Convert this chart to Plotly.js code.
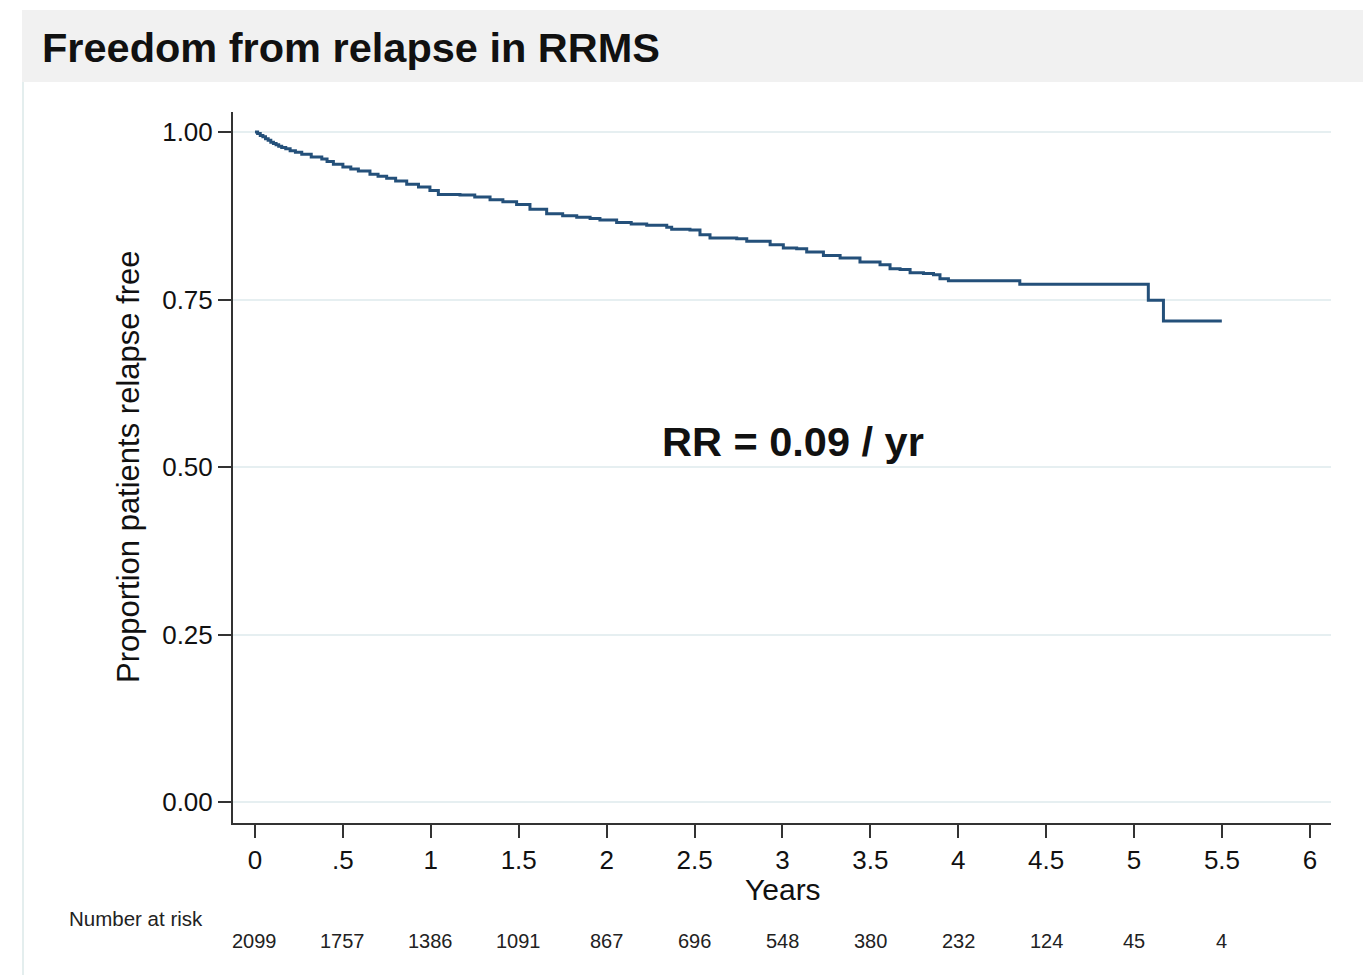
<!DOCTYPE html>
<html>
<head>
<meta charset="utf-8">
<script src="https://cdn.plot.ly/plotly-3.0.1.min.js"></script>
<style>html,body{margin:0;padding:0;background:#fff;}#chart{width:1363px;height:975px;}</style>
</head>
<body>
<div id="chart"></div>
<script>
// Kaplan-Meier step points: time (years) and survival proportion
var years = [0, 0.015, 0.03, 0.045, 0.06, 0.075, 0.09, 0.105, 0.12, 0.135, 0.152, 0.175, 0.2, 0.23, 0.266, 0.32, 0.38, 0.41, 0.446, 0.5, 0.545, 0.588, 0.654, 0.70, 0.749, 0.80, 0.863, 0.93, 0.995, 1.043, 1.166, 1.25, 1.337, 1.41, 1.488, 1.564, 1.659, 1.75, 1.83, 1.906, 1.962, 2.057, 2.14, 2.228, 2.342, 2.37, 2.474, 2.531, 2.588, 2.74, 2.797, 2.93, 3.005, 3.081, 3.138, 3.233, 3.328, 3.441, 3.555, 3.612, 3.669, 3.726, 3.802, 3.859, 3.896, 3.944, 4.35, 5.081, 5.167, 5.499];
var survival = [1.0, 0.998, 0.995, 0.993, 0.990, 0.988, 0.985, 0.983, 0.981, 0.979, 0.977, 0.975, 0.972, 0.970, 0.967, 0.963, 0.960, 0.956, 0.952, 0.948, 0.945, 0.942, 0.937, 0.934, 0.931, 0.927, 0.922, 0.918, 0.913, 0.907, 0.906, 0.903, 0.899, 0.896, 0.892, 0.885, 0.878, 0.875, 0.873, 0.871, 0.869, 0.865, 0.863, 0.861, 0.858, 0.855, 0.854, 0.847, 0.842, 0.841, 0.837, 0.832, 0.827, 0.826, 0.821, 0.816, 0.812, 0.806, 0.802, 0.796, 0.795, 0.790, 0.789, 0.787, 0.781, 0.778, 0.773, 0.749, 0.718, 0.718];

var xTickVals = [0, 0.5, 1, 1.5, 2, 2.5, 3, 3.5, 4, 4.5, 5, 5.5, 6];
var xTickText = ["0", ".5", "1", "1.5", "2", "2.5", "3", "3.5", "4", "4.5", "5", "5.5", "6"];
var yTickVals = [0, 0.25, 0.5, 0.75, 1];
var yTickText = ["0.00", "0.25", "0.50", "0.75", "1.00"];

var riskTimes = [0, 0.5, 1, 1.5, 2, 2.5, 3, 3.5, 4, 4.5, 5, 5.5];
var riskCounts = [2099, 1757, 1386, 1091, 867, 696, 548, 380, 232, 124, 45, 4];

var titleText = "Freedom from relapse in RRMS";
var xTitle = "Years";
var yTitle = "Proportion patients relapse free";
var rrText = "RR = 0.09 / yr";
var riskLabel = "Number at risk";

var FONT = "Liberation Sans, Arial, Helvetica, sans-serif";

var trace = {
  x: years, y: survival, type: "scatter", mode: "lines",
  line: {shape: "hv", color: "#24507a", width: 3},
  hoverinfo: "skip", showlegend: false
};

// plot area in pixels: left 233, right 1331, top 112, bottom 823
var L = 233, R = 1331, T = 112, B = 823;
function px(x){ return (x - L) / (R - L); }
function py(y){ return (B - y) / (B - T); }

var annotations = [
  {text: "<b>" + titleText + "</b>", xref: "paper", yref: "paper", x: px(40), y: py(47),
   xanchor: "left", yanchor: "middle", showarrow: false, font: {family: FONT, size: 41.5, color: "#111"}},
  {text: yTitle, xref: "paper", yref: "paper", x: px(128), y: py(467), textangle: -90,
   xanchor: "center", yanchor: "middle", showarrow: false, font: {family: FONT, size: 31, color: "#111"}},
  {text: xTitle, xref: "paper", yref: "paper", x: px(783), y: py(889),
   xanchor: "center", yanchor: "middle", showarrow: false, font: {family: FONT, size: 30, color: "#111"}},
  {text: "<b>" + rrText + "</b>", xref: "x", yref: "y", x: 3.06, y: 0.539,
   xanchor: "center", yanchor: "middle", showarrow: false, font: {family: FONT, size: 41.5, color: "#111"}},
  {text: riskLabel, xref: "paper", yref: "paper", x: px(67), y: py(918),
   xanchor: "left", yanchor: "middle", showarrow: false, font: {family: FONT, size: 20.5, color: "#222"}}
];
for (var i = 0; i < riskTimes.length; i++) {
  annotations.push({text: String(riskCounts[i]), xref: "x", yref: "paper", x: riskTimes[i], y: py(941),
    xanchor: "center", yanchor: "middle", showarrow: false, font: {family: FONT, size: 20, color: "#222"}});
}

var shapes = [
  {type: "rect", xref: "paper", yref: "paper", x0: px(22), x1: px(1363), y0: py(82), y1: py(10),
   fillcolor: "#f1f1f1", line: {width: 0}, layer: "below"},
  {type: "line", xref: "paper", yref: "paper", x0: px(23), x1: px(23), y0: py(82), y1: py(975),
   line: {color: "#e4eeee", width: 2}, layer: "below"}
];

var layout = {
  width: 1363, height: 975,
  margin: {l: L, r: 1363 - R, t: T, b: 975 - B, pad: 0},
  paper_bgcolor: "#ffffff", plot_bgcolor: "#ffffff",
  font: {family: FONT, color: "#111"},
  showlegend: false,
  xaxis: {
    range: [-0.125, 6.12], tickvals: xTickVals, ticktext: xTickText,
    ticks: "outside", ticklen: 13, tickwidth: 2, tickcolor: "#333",
    showline: true, linecolor: "#333", linewidth: 2,
    showgrid: false, zeroline: false,
    tickfont: {family: FONT, size: 26, color: "#111"}
  },
  yaxis: {
    range: [-0.031, 1.03], tickvals: yTickVals, ticktext: yTickText,
    ticks: "outside", ticklen: 13, tickwidth: 2, tickcolor: "#333",
    showline: true, linecolor: "#333", linewidth: 2,
    showgrid: true, gridcolor: "#e6eff1", gridwidth: 2, zeroline: false,
    tickfont: {family: FONT, size: 26, color: "#111"}
  },
  annotations: annotations,
  shapes: shapes
};

Plotly.newPlot("chart", [trace], layout, {displayModeBar: false, staticPlot: true});
</script>
</body>
</html>
